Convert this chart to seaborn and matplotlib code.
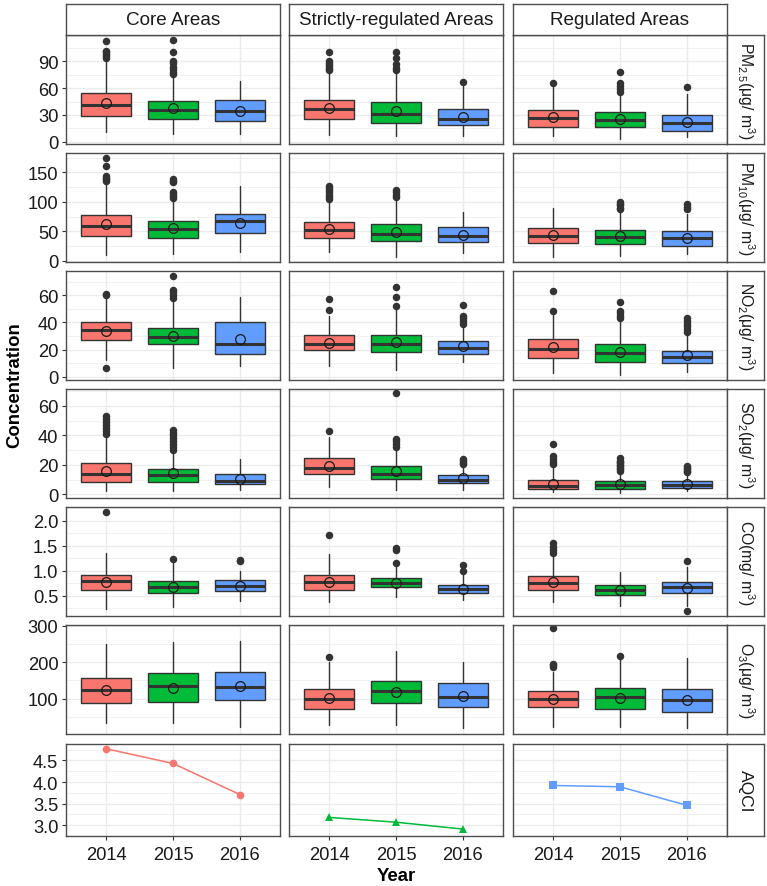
import numpy as np
import pandas as pd
import matplotlib
matplotlib.use("Agg")
import matplotlib.pyplot as plt
import seaborn as sns

# ---------------- data ----------------
areas = ["Core Areas", "Strictly-regulated Areas", "Regulated Areas"]
years = ["2014", "2015", "2016"]
year_colors = ["#F8766D", "#00BA38", "#619CFF"]
area_colors = ["#F8766D", "#00BA38", "#619CFF"]

row_labels = [r"PM$_\mathregular{2.5}$(μg/ m$^\mathregular{3}$)",
              r"PM$_\mathregular{10}$(μg/ m$^\mathregular{3}$)",
              r"NO$_\mathregular{2}$(μg/ m$^\mathregular{3}$)",
              r"SO$_\mathregular{2}$(μg/ m$^\mathregular{3}$)",
              r"CO(mg/ m$^\mathregular{3}$)",
              r"O$_\mathregular{3}$(μg/ m$^\mathregular{3}$)"]

# each list: [area][year]
pm25_q1 = [[28.5, 25.5, 23.3], [25.5, 21.4, 18.4], [16.2, 16.2, 12.4]]
pm25_med = [[40.9, 35.6, 34.5], [36.4, 31.1, 25.9], [27.0, 24.7, 21.0]]
pm25_q3 = [[54.3, 46.0, 46.8], [46.8, 44.9, 37.0], [36.0, 33.7, 29.7]]
pm25_lo = [[10.6, 8.7, 8.7], [8.0, 6.1, 6.0], [6.1, 3.1, 5.0]]
pm25_hi = [[92, 74, 68], [78, 78, 62], [61, 54, 54]]
pm25_mean = [[43.4, 37.8, 34.8], [37.8, 34.8, 28.1], [27.4, 25.5, 22.5]]
pm25_out = [[[94, 96, 98, 100, 102, 113], [76, 78, 81, 84, 88, 91, 100, 114], []],
            [[80, 82, 84, 86, 88, 90, 101], [80, 83, 87, 94, 101], [67]],
            [[66], [56, 59, 62, 66, 78], [61]]]

pm10_q1 = [[42.4, 39.0, 46.5], [39.1, 33.4, 31.2], [30.6, 28.9, 25.5]]
pm10_med = [[59.4, 54.3, 67.4], [52.1, 45.8, 42.6], [42.1, 40.2, 38.0]]
pm10_q3 = [[78.3, 66.9, 79.8], [66.3, 62.3, 56.7], [55.0, 52.6, 50.4]]
pm10_lo = [[9.7, 11.4, 14.3], [14.3, 6.8, 13.0], [5.8, 8.5, 11.4]]
pm10_hi = [[130, 105, 126.3], [100, 103, 83.2], [89, 83.2, 79.3]]
pm10_mean = [[61.8, 55.0, 64.0], [54.4, 49.2, 44.1], [43.6, 41.4, 39.0]]
pm10_out = [[[135, 138, 141, 144, 161, 175], [107, 110, 113, 116, 133, 136, 139], []],
            [[104, 108, 112, 116, 120, 124, 127], [108, 112, 116, 120], []],
            [[], [87, 90, 94, 97, 100], [87, 92, 97]]]

no2_q1 = [[27.0, 24.1, 17.0], [19.9, 18.0, 17.0], [13.8, 10.9, 10.1]]
no2_med = [[34.4, 29.0, 24.3], [24.1, 24.1, 21.4], [20.4, 17.3, 14.6]]
no2_q3 = [[40.3, 36.1, 40.5], [30.5, 31.0, 26.3], [27.5, 24.1, 19.2]]
no2_lo = [[12.0, 6.2, 7.7], [8.2, 5.2, 10.7], [2.6, 1.6, 3.3]]
no2_hi = [[57.7, 57.2, 58.9], [44.9, 50.0, 37.6], [46.2, 42.5, 32.2]]
no2_mean = [[33.4, 30.2, 27.8], [24.9, 25.4, 22.9], [21.7, 18.4, 16.3]]
no2_out = [[[6.2, 60, 61], [58, 60, 62, 64, 74], []],
           [[49.3, 57.2], [52.3, 58.5, 66.3], [39, 41, 43, 45, 53]],
           [[48.1, 63.1], [43.5, 45, 47, 48.6, 55.2], [33, 35, 37, 39, 41, 43]]]

so2_q1 = [[8.7, 8.7, 6.9], [13.9, 10.7, 7.8], [3.5, 3.7, 4.6]]
so2_med = [[14.1, 13.2, 9.4], [18.0, 13.9, 10.0], [5.8, 6.4, 6.4]]
so2_q3 = [[21.2, 17.1, 13.9], [24.5, 19.1, 13.2], [10.0, 8.9, 8.9]]
so2_lo = [[2.2, 2.2, 3.3], [4.9, 3.1, 3.3], [1.5, 1.0, 2.2]]
so2_hi = [[39.9, 29.0, 24.1], [38.8, 30.4, 19.5], [19.5, 15.0, 13.9]]
so2_mean = [[16.2, 14.6, 10.5], [19.5, 15.7, 11.0], [7.3, 6.9, 6.9]]
so2_out = [[[41, 43, 45, 47, 49, 51, 53], [30, 32, 34, 36, 38, 40, 42, 44], []],
           [[43.3], [32, 34, 36, 37.6, 68.6], [20.5, 21.5, 22.5, 24]],
           [[20.5, 22, 24, 26.3, 34.2], [16, 17, 18, 19, 20, 21, 22, 23, 24.7], [15, 16, 17, 18, 19.1]]]

co_q1 = [[0.614, 0.548, 0.600], [0.614, 0.667, 0.547], [0.620, 0.514, 0.554]]
co_med = [[0.788, 0.680, 0.688], [0.780, 0.747, 0.634], [0.747, 0.620, 0.667]]
co_q3 = [[0.920, 0.794, 0.820], [0.914, 0.847, 0.720], [0.887, 0.720, 0.774]]
co_lo = [[0.234, 0.280, 0.400], [0.367, 0.467, 0.414], [0.367, 0.287, 0.287]]
co_hi = [[1.354, 1.154, 1.000], [1.334, 1.080, 0.934], [1.300, 0.967, 1.067]]
co_mean = [[0.774, 0.668, 0.700], [0.774, 0.747, 0.634], [0.774, 0.620, 0.660]]
co_out = [[[2.18], [1.234], [1.19, 1.21]],
          [[1.708], [1.147, 1.41, 1.45], [1.0, 1.12]],
          [[1.35, 1.42, 1.48, 1.55], [], [0.2, 1.2]]]

o3_q1 = [[88.1, 89.8, 97.2], [70.5, 87.0, 76.0], [76.0, 71.5, 63.2]]
o3_med = [[124.9, 135.0, 133.1], [100.0, 120.3, 104.7], [99.1, 103.6, 95.4]]
o3_q3 = [[157.2, 169.0, 173.7], [127.6, 148.9, 143.4], [120.3, 129.6, 127.6]]
o3_lo = [[33.0, 33.0, 23.5], [29.0, 27.3, 19.0], [21.8, 23.5, 19.0]]
o3_hi = [[249.0, 254.7, 256.6], [199.4, 230.7, 201.4], [173.7, 212.0, 210.5]]
o3_mean = [[124.9, 130.4, 134.0], [101.8, 118.5, 108.3], [99.0, 102.8, 97.2]]
o3_out = [[[], [], []],
          [[214], [], []],
          [[188, 192, 196, 293.4], [218], []]]

aqci_core = [4.77, 4.43, 3.71]
aqci_strict = [3.18, 3.07, 2.91]
aqci_reg = [3.92, 3.89, 3.46]

# axis settings per row
row_ylims = [(-2.5, 119.6), (-2.2, 182.9), (-2.35, 77.8), (-2.4, 71.5), (0.094, 2.274), (3.3, 301.7)]
row_major = [[0, 30, 60, 90], [0, 50, 100, 150], [0, 20, 40, 60], [0, 20, 40, 60],
             [0.5, 1.0, 1.5, 2.0], [100, 200, 300]]
row_minor = [[15, 45, 75, 105], [25, 75, 125, 175], [10, 30, 50, 70], [10, 30, 50, 70],
             [0.25, 0.75, 1.25, 1.75, 2.25], [50, 150, 250]]
row_fmt = ["{:.0f}", "{:.0f}", "{:.0f}", "{:.0f}", "{:.1f}", "{:.0f}"]

pollutant_data = [
    (pm25_q1, pm25_med, pm25_q3, pm25_lo, pm25_hi, pm25_mean, pm25_out),
    (pm10_q1, pm10_med, pm10_q3, pm10_lo, pm10_hi, pm10_mean, pm10_out),
    (no2_q1, no2_med, no2_q3, no2_lo, no2_hi, no2_mean, no2_out),
    (so2_q1, so2_med, so2_q3, so2_lo, so2_hi, so2_mean, so2_out),
    (co_q1, co_med, co_q3, co_lo, co_hi, co_mean, co_out),
    (o3_q1, o3_med, o3_q3, o3_lo, o3_hi, o3_mean, o3_out),
]

# ---------------- style ----------------
sns.set_theme(style="white")
plt.rcParams["font.family"] = ["Liberation Sans", "DejaVu Sans"]
plt.rcParams["mathtext.fontset"] = "custom"
plt.rcParams["mathtext.rm"] = "Liberation Sans"
plt.rcParams["mathtext.it"] = "Liberation Sans:italic"
plt.rcParams["mathtext.bf"] = "Liberation Sans:bold"

W, H = 767, 887
fig = plt.figure(figsize=(W / 100, H / 100), dpi=100)
fig.patch.set_facecolor("white")


def rect(x, y, w, h):
    return [x / W, 1 - (y + h) / H, w / W, h / H]


col_x = [66, 289, 513]
col_w = 214
row_y = [36, 154, 272, 390, 508, 626]
row_h = 109
aq_y, aq_h = 745, 92
strip_top_y, strip_top_h = 5, 31
strip_r_x, strip_r_w = 727, 37

border_col = "#4d4d4d"
grid_col = "#EBEBEB"
text_col = "#1a1a1a"
dark = "#333333"
FS = 13.2


def style_panel(ax, show_y):
    ax.set_facecolor("white")
    for s in ax.spines.values():
        s.set_color(border_col)
        s.set_linewidth(1.0)
    ax.set_axisbelow(True)
    ax.grid(which="major", color=grid_col, linewidth=1.0)
    ax.grid(which="minor", color=grid_col, linewidth=0.5)
    ax.tick_params(axis="y", which="major", left=show_y, labelleft=show_y, length=3,
                   width=0.8, color=dark, labelsize=FS, labelcolor=text_col, pad=2.5)
    ax.tick_params(axis="y", which="minor", left=False, length=0)
    ax.tick_params(axis="x", which="both", bottom=False, labelbottom=False, length=0)


def strip(x, y, w, h, label, rotation=0, fs=FS):
    sa = fig.add_axes(rect(x, y, w, h))
    sa.set_facecolor("white")
    sa.set_xticks([])
    sa.set_yticks([])
    for s in sa.spines.values():
        s.set_color(border_col)
        s.set_linewidth(1.0)
    sa.text(0.5, 0.5, label, transform=sa.transAxes, ha="center", va="center",
            rotation=rotation, fontsize=fs, color=text_col)


positions = np.arange(len(years))

for r, (q1s, meds, q3s, los, his, means, outs) in enumerate(pollutant_data):
    for c in range(3):
        ax = fig.add_axes(rect(col_x[c], row_y[r], col_w, row_h))
        stats = []
        for k in range(3):
            stats.append(dict(q1=q1s[c][k], med=meds[c][k], q3=q3s[c][k],
                              whislo=los[c][k], whishi=his[c][k], mean=means[c][k],
                              fliers=outs[c][k]))
        bp = ax.bxp(stats, positions=positions, widths=0.75, patch_artist=True,
                    showmeans=True, showcaps=False, showfliers=True,
                    boxprops=dict(edgecolor=dark, linewidth=1.0),
                    medianprops=dict(color=dark, linewidth=2.2, solid_capstyle="butt"),
                    whiskerprops=dict(color=dark, linewidth=1.0),
                    flierprops=dict(marker="o", markerfacecolor=dark, markeredgecolor=dark,
                                    markersize=4.4, linestyle="none"),
                    meanprops=dict(marker="o", markerfacecolor="none", markeredgecolor=text_col,
                                   markersize=7, markeredgewidth=0.9))
        for patch, col in zip(bp["boxes"], year_colors):
            patch.set_facecolor(col)
        ax.set_xlim(-0.6, 2.6)
        ax.set_ylim(*row_ylims[r])
        ax.set_xticks(positions)
        ax.set_yticks(row_major[r])
        ax.set_yticks(row_minor[r], minor=True)
        ax.set_yticklabels([row_fmt[r].format(v) for v in row_major[r]])
        style_panel(ax, c == 0)
    strip(strip_r_x, row_y[r], strip_r_w, row_h, row_labels[r], rotation=270, fs=11.3)

for c in range(3):
    strip(col_x[c], strip_top_y, col_w, strip_top_h, areas[c], fs=13.6)

# AQCI row
aq_vals = [aqci_core, aqci_strict, aqci_reg]
aq_markers = ["o", "^", "s"]
for c in range(3):
    ax = fig.add_axes(rect(col_x[c], aq_y, col_w, aq_h))
    df = pd.DataFrame({"pos": positions, "AQCI": aq_vals[c]})
    sns.lineplot(data=df, x="pos", y="AQCI", ax=ax, color=area_colors[c], linewidth=1.1,
                 marker=aq_markers[c], markersize=5.5, markeredgewidth=0,
                 markerfacecolor=area_colors[c], legend=False)
    ax.set_xlim(-0.6, 2.6)
    ax.set_ylim(2.82, 4.88)
    ax.set_yticks([3.0, 3.5, 4.0, 4.5])
    ax.set_yticks([2.75, 3.25, 3.75, 4.25, 4.75], minor=True)
    ax.set_yticklabels(["3.0", "3.5", "4.0", "4.5"])
    ax.set_xticks(positions)
    ax.set_xticklabels(years)
    ax.set_xlabel("")
    ax.set_ylabel("")
    style_panel(ax, c == 0)
    ax.tick_params(axis="x", which="major", bottom=True, labelbottom=True, length=3,
                   width=0.8, color=dark, labelsize=FS, labelcolor=text_col, pad=4)
strip(strip_r_x, aq_y, strip_r_w, aq_h, "AQCI", rotation=270, fs=12.5)

fig.text(15 / W, 1 - 385 / H, "Concentration", rotation=90, fontweight="bold",
         fontsize=13.4, ha="center", va="center", color="black")
fig.text(396 / W, 1 - 877 / H, "Year", fontweight="bold",
         fontsize=13.4, ha="center", va="center", color="black")

fig.savefig("out.png", dpi=100, facecolor="white")
